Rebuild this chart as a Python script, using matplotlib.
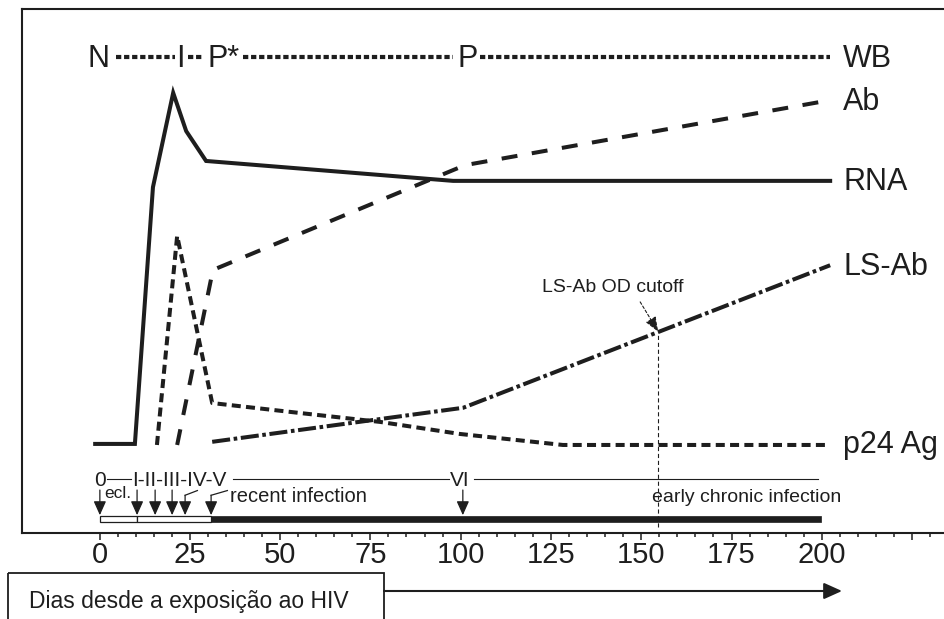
import matplotlib
matplotlib.use('Agg')
import matplotlib.pyplot as plt
from matplotlib.patches import Rectangle

plt.rcParams['font.family'] = ['Liberation Sans', 'DejaVu Sans']
plt.rcParams['lines.scale_dashes'] = False

INK = '#1e1e1e'

# ---------------- data (days since exposure, relative level 0-100) ----------------
rna_days = [-1.2, 9.8, 14.8, 20.4, 24.0, 29.5, 97.9, 202.3]
rna_vals = [17.0, 17.0, 66.0, 84.0, 76.7, 71.0, 67.2, 67.2]

p24_days = [15.9, 21.5, 31.2, 55.5, 77.7, 99.8, 128.3, 202.3]
p24_vals = [16.8, 56.7, 24.8, 22.9, 21.2, 18.9, 16.8, 16.8]

ab_days = [21.5, 31.4, 101.2, 202.3]
ab_vals = [16.8, 50.2, 70.2, 82.6]

lsab_days = [31.2, 100.7, 202.3]
lsab_vals = [17.4, 23.9, 51.1]

cutoff_day = 154.7
cutoff_val = 38.4
cutoff_label = 'LS-Ab OD cutoff'

series_labels = ['WB', 'Ab', 'RNA', 'LS-Ab', 'p24 Ag']
series_label_vals = [88.9, 80.7, 65.5, 49.2, 15.3]
series_label_day = 205.9

wb_marks = ['N', 'I', 'P*', 'P']
wb_mark_days = [-0.4, 22.3, 30.0, 99.0]
wb_mark_align = ['center', 'center', 'left', 'left']
wb_dot_segments = [(4.6, 20.9), (24.5, 28.9), (39.7, 97.9), (105.3, 202.3)]
wb_level = 90.8
wb_text_level = 88.9

stage_texts = ['0', 'I-II-III-IV-V', 'VI']
stage_text_days = [0.1, 9.0, 99.8]
stage_text_align = ['center', 'left', 'center']
stage_line_segments = [(2.0, 8.6), (37.0, 96.9), (103.8, 199.0)]
stage_level = 10.4
stage_text_level = 8.9

arrow_days_straight = [0.1, 10.4, 15.4, 20.1, 100.6]
arrow_days_leader = [23.7, 30.9]
leader_start_days = [27.1, 35.4]

white_segments = [(0.1, 10.4), (10.4, 30.9)]
black_segment = (30.9, 199.7)

tick_days = [0, 25, 50, 75, 100, 125, 150, 175, 200, 225]
tick_labels = ['0', '25', '50', '75', '100', '125', '150', '175', '200', '']
xlabel = 'Dias desde a exposição ao HIV'

# ---------------- figure ----------------
fig = plt.figure(figsize=(9.45, 6.19), dpi=100)
ax = fig.add_axes([22 / 945, 86 / 619, 923 / 945, 524 / 619])
ax.set_xlim(-21.46, 234.1)
ax.set_ylim(0, 100)

for s in ['left', 'top', 'bottom']:
    ax.spines[s].set_linewidth(1.5)
    ax.spines[s].set_color(INK)
ax.spines['right'].set_visible(False)
ax.set_yticks([])
ax.set_xticks(tick_days)
ax.set_xticklabels(tick_labels)
ax.set_xticks(list(range(0, 235, 5)), minor=True)
ax.tick_params(axis='x', which='major', direction='out', length=5, width=1.1,
               colors=INK, labelsize=21, pad=1)
ax.tick_params(axis='x', which='minor', direction='out', length=2.6, width=1.1, colors=INK)

lw = 2.9
ax.plot(rna_days, rna_vals, color=INK, lw=lw, solid_joinstyle='miter')
ax.plot(p24_days, p24_vals, color=INK, lw=lw, linestyle=(0, (6.5, 3.8)), dash_capstyle='butt')
ax.plot(ab_days, ab_vals, color=INK, lw=lw, linestyle=(0, (11.5, 10.5)), dash_capstyle='butt')
ax.plot(lsab_days, lsab_vals, color=INK, lw=lw, linestyle=(0, (13, 2.6, 2.6, 2.6)), dash_capstyle='butt')

for lab, v in zip(series_labels, series_label_vals):
    ax.text(series_label_day, v, lab, fontsize=22, color=INK, ha='left', va='baseline')

# WB status row
for a, b in wb_dot_segments:
    ax.plot([a, b], [wb_level, wb_level], color=INK, lw=3.0,
            linestyle=(0, (3.8, 2.0)), dash_capstyle='butt')
for m, d, al in zip(wb_marks, wb_mark_days, wb_mark_align):
    ax.text(d, wb_text_level, m, fontsize=22, color=INK, ha=al, va='baseline')

# cutoff
ax.plot([cutoff_day, cutoff_day], [1.1, cutoff_val], color=INK, lw=0.8, linestyle=(0, (3, 2)))
ax.annotate('', xy=(cutoff_day, cutoff_val), xytext=(149.7, 44.1),
            arrowprops=dict(arrowstyle='-|>,head_length=0.9,head_width=0.35', mutation_scale=10,
                            lw=0.8, linestyle=(0, (2, 1.5)), color=INK, shrinkA=0, shrinkB=0))
ax.text(122.5, 46.0, cutoff_label, fontsize=14, color=INK, ha='left', va='baseline')

# stage row
for a, b in stage_line_segments:
    ax.plot([a, b], [stage_level, stage_level], color=INK, lw=0.8)
for t, d, al in zip(stage_texts, stage_text_days, stage_text_align):
    ax.text(d, stage_text_level, t, fontsize=15, color=INK, ha=al, va='baseline')
ax.text(1.2, 6.6, 'ecl.', fontsize=12.5, color=INK, ha='left', va='baseline')
ax.text(36.2, 5.9, 'recent infection', fontsize=14.5, color=INK, ha='left', va='baseline')
ax.text(153.0, 5.9, 'early chronic infection', fontsize=14, color=INK, ha='left', va='baseline')

aprops = dict(arrowstyle='-|>,head_length=0.85,head_width=0.38', mutation_scale=10,
              lw=0.9, color=INK, shrinkA=0, shrinkB=0)
for d in arrow_days_straight:
    ax.annotate('', xy=(d, 3.4), xytext=(d, 8.2), arrowprops=aprops)
for d, s in zip(arrow_days_leader, leader_start_days):
    ax.plot([s, d], [8.1, 7.2], color=INK, lw=0.9)
    ax.annotate('', xy=(d, 3.4), xytext=(d, 7.2), arrowprops=aprops)

for a, b in white_segments:
    ax.barh(2.67, b - a, left=a, height=1.15, color='white', edgecolor=INK, linewidth=0.9)
ax.barh(2.67, black_segment[1] - black_segment[0], left=black_segment[0], height=1.15,
        color=INK, edgecolor=INK, linewidth=0.5)

# ---------------- overlay for the x label box and arrow ----------------
ov = fig.add_axes([0, 0, 1, 1])
ov.set_xlim(0, 945)
ov.set_ylim(619, 0)
ov.axis('off')
ov.patch.set_alpha(0)
ov.add_patch(Rectangle((8, 573), 376, 60, facecolor='none', edgecolor=INK, lw=1.3))
ov.annotate('', xy=(842, 591), xytext=(384, 591),
            arrowprops=dict(arrowstyle='-|>,head_length=1.0,head_width=0.45', mutation_scale=11,
                            lw=1.5, color=INK, shrinkA=0, shrinkB=0))
ov.text(29, 608, xlabel, fontsize=16.5, color=INK, ha='left', va='baseline')

fig.savefig('out.png', dpi=100)
